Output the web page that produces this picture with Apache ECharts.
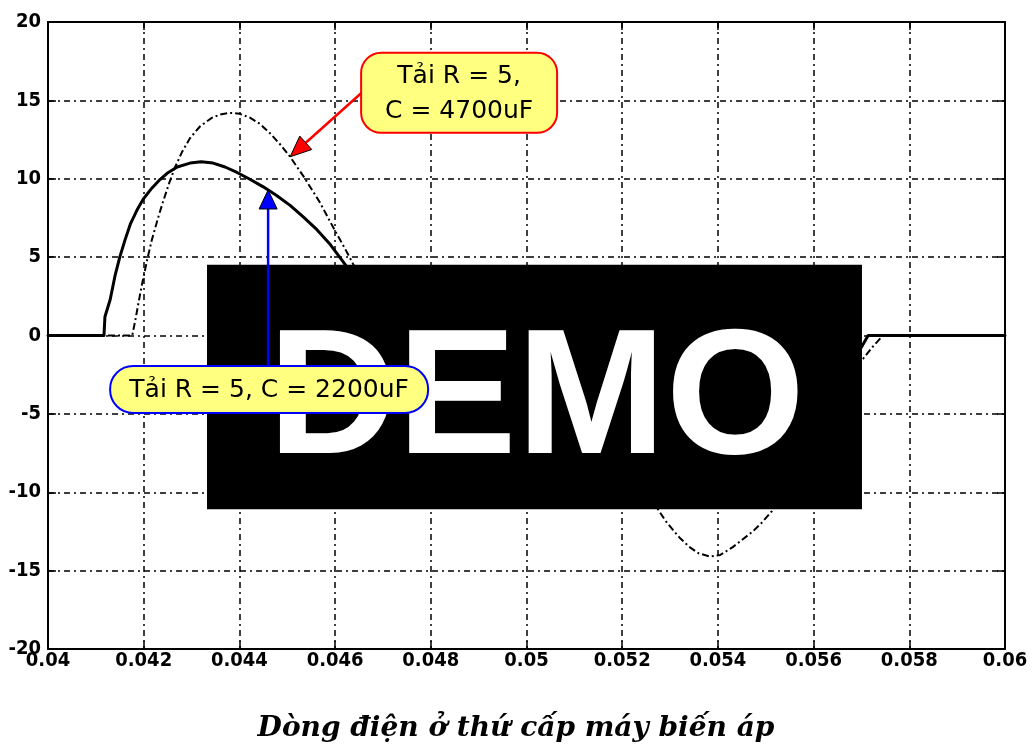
<!DOCTYPE html>
<html>
<head>
<meta charset="utf-8">
<script src="https://cdn.jsdelivr.net/npm/echarts@6/dist/echarts.min.js"></script>
<style>
  html, body { margin: 0; padding: 0; background: #fff; }
  #chart { width: 1032px; height: 747px; }
</style>
</head>
<body>
<div id="chart"></div>
<script>
// Secondary current of the transformer, load R = 5 with C = 2200uF (solid)
const tSolid = [0.04000, 0.04117, 0.04119, 0.04130, 0.04140, 0.04150, 0.04161, 0.04172, 0.04186, 0.04199,
  0.04217, 0.04234, 0.04249, 0.04270, 0.04297, 0.04320, 0.04345, 0.04370, 0.04395, 0.04420,
  0.04449, 0.04477, 0.04506, 0.04534, 0.04562, 0.04590, 0.04617, 0.04645, 0.04673, 0.04695,
  0.04714, 0.05117, 0.05119, 0.05130, 0.05140, 0.05150, 0.05161, 0.05172, 0.05186, 0.05199,
  0.05217, 0.05234, 0.05249, 0.05270, 0.05297, 0.05320, 0.05345, 0.05370, 0.05395, 0.05420,
  0.05449, 0.05477, 0.05506, 0.05534, 0.05562, 0.05590, 0.05617, 0.05645, 0.05673, 0.05695,
  0.05714, 0.06000];
const iSolid = [0, 0, 1.2, 2.3, 3.8, 5.0, 6.1, 7.1, 8.0, 8.7,
  9.4, 9.95, 10.35, 10.75, 11.0, 11.08, 11.0, 10.75, 10.4, 10.0,
  9.5, 8.95, 8.3, 7.55, 6.75, 5.8, 4.7, 3.5, 2.2, 1.0,
  0, 0, -1.2, -2.3, -3.8, -5.0, -6.1, -7.0, -7.9, -8.6,
  -9.3, -9.8, -10.2, -10.6, -10.8, -10.85, -10.8, -10.6, -10.3, -9.9,
  -9.4, -8.9, -8.3, -7.5, -6.7, -5.8, -4.7, -3.5, -2.2, -1.0,
  0, 0];

// Same load with C = 4700uF (dashed)
const tDashed = [0.04000, 0.04176, 0.04182, 0.04188, 0.04196, 0.04207, 0.04217, 0.04230, 0.04240, 0.04253,
  0.04265, 0.04280, 0.04297, 0.04318, 0.04343, 0.04360, 0.04380, 0.04400, 0.04422, 0.04443,
  0.04464, 0.04485, 0.04506, 0.04533, 0.04568, 0.04596, 0.04625, 0.04637, 0.04660, 0.04683,
  0.04703, 0.04724, 0.04745, 0.05173, 0.05182, 0.05188, 0.05196, 0.05207, 0.05217, 0.05230,
  0.05240, 0.05253, 0.05265, 0.05275, 0.05290, 0.05306, 0.05320, 0.05341, 0.05360, 0.05383,
  0.05405, 0.05431, 0.05452, 0.05473, 0.05493, 0.05513, 0.05533, 0.05568, 0.05596, 0.05625,
  0.05637, 0.05660, 0.05683, 0.05703, 0.05724, 0.05745, 0.06000];
const iDashed = [0, 0, 0.9, 1.9, 3.2, 4.8, 6.1, 7.5, 8.5, 9.7,
  10.7, 11.7, 12.6, 13.35, 13.9, 14.1, 14.2, 14.15, 13.9, 13.5,
  12.9, 12.2, 11.4, 10.2, 8.5, 6.9, 5.3, 4.6, 3.4, 2.2,
  1.4, 0.6, 0, 0, -0.9, -1.9, -3.2, -4.8, -6.1, -7.5,
  -8.5, -9.7, -10.5, -11.1, -11.8, -12.4, -12.9, -13.5, -13.9, -14.1,
  -14.0, -13.5, -13.0, -12.5, -11.9, -11.2, -10.2, -8.5, -6.9, -5.3,
  -4.6, -3.0, -2.0, -1.5, -0.7, 0, 0];

const xMin = 0.04, xMax = 0.06, xStep = 0.002;
const yMin = -20, yMax = 20, yStep = 5;

const titleText = 'Dòng điện ở thứ cấp máy biến áp';
const noteDashed = 'Tải R = 5,\nC = 4700uF';
const noteSolid = 'Tải R = 5, C = 2200uF';
const stampText = 'DEMO';

const pairs = (xs, ys) => xs.map((x, k) => [x, ys[k]]);

const tickFont = {
  color: '#000',
  fontFamily: "'DejaVu Sans Condensed', 'Liberation Sans Narrow', Arial, sans-serif",
  fontWeight: 'bold',
  fontSize: 20
};
const gridDash = { color: '#000', width: 1.5, type: [6, 4, 2, 4] };

const chart = echarts.init(document.getElementById('chart'), null, { renderer: 'canvas' });

chart.setOption({
  animation: false,
  backgroundColor: '#fff',
  title: {
    text: titleText,
    left: 'center',
    top: 710,
    textStyle: {
      fontFamily: "'DejaVu Serif', serif",
      fontStyle: 'italic',
      fontWeight: 'bold',
      fontSize: 28,
      color: '#000'
    }
  },
  grid: { left: 48, right: 27, top: 22, bottom: 98, containLabel: false },
  xAxis: [{
    type: 'value', min: xMin, max: xMax, interval: xStep,
    axisLine: { show: true, onZero: false, lineStyle: { color: '#000', width: 2 } },
    axisTick: { show: true, inside: true, length: 8, lineStyle: { color: '#000', width: 1.5 } },
    axisLabel: { ...tickFont, margin: 2, formatter: v => String(+v.toFixed(3)) },
    splitLine: { show: true, lineStyle: gridDash }
  }, {
    type: 'value', position: 'top', min: xMin, max: xMax, interval: xStep,
    axisLine: { show: true, onZero: false, lineStyle: { color: '#000', width: 2 } },
    axisTick: { show: true, inside: true, length: 8, lineStyle: { color: '#000', width: 1.5 } },
    axisLabel: { show: false }, splitLine: { show: false }
  }],
  yAxis: [{
    type: 'value', min: yMin, max: yMax, interval: yStep,
    axisLine: { show: true, onZero: false, lineStyle: { color: '#000', width: 2 } },
    axisTick: { show: true, inside: true, length: 8, lineStyle: { color: '#000', width: 1.5 } },
    axisLabel: { ...tickFont, margin: 7 },
    splitLine: { show: true, lineStyle: gridDash }
  }, {
    type: 'value', position: 'right', min: yMin, max: yMax, interval: yStep,
    axisLine: { show: true, onZero: false, lineStyle: { color: '#000', width: 2 } },
    axisTick: { show: true, inside: true, length: 8, lineStyle: { color: '#000', width: 1.5 } },
    axisLabel: { show: false }, splitLine: { show: false }
  }],
  series: [{
    name: 'C = 2200uF',
    type: 'line',
    data: pairs(tSolid, iSolid),
    showSymbol: false,
    symbol: 'none',
    lineStyle: { color: '#000', width: 3, join: 'round', cap: 'round' },
    z: 3
  }, {
    name: 'C = 4700uF',
    type: 'line',
    data: pairs(tDashed, iDashed),
    showSymbol: false,
    symbol: 'none',
    lineStyle: { color: '#000', width: 2, type: [7, 3, 2, 3] },
    z: 4
  }]
});

// value of a series at time t, by straight-line interpolation between its samples
function valueAt(xs, ys, t) {
  for (let k = 1; k < xs.length; k++) {
    if (t <= xs[k]) {
      const f = (t - xs[k - 1]) / (xs[k] - xs[k - 1]);
      return ys[k - 1] + f * (ys[k] - ys[k - 1]);
    }
  }
  return ys[ys.length - 1];
}

// arrow: shaft from 'from' to 'tip', filled head at the tip
function arrow(from, tip, color, headLen, headHalf) {
  const dx = tip[0] - from[0], dy = tip[1] - from[1];
  const len = Math.hypot(dx, dy);
  const ux = dx / len, uy = dy / len;
  const bx = tip[0] - ux * headLen, by = tip[1] - uy * headLen;
  return [{
    type: 'line', z: 110,
    shape: { x1: from[0], y1: from[1], x2: bx, y2: by },
    style: { stroke: color, lineWidth: 2.5 }
  }, {
    type: 'polygon', z: 111,
    shape: { points: [tip, [bx - uy * headHalf, by + ux * headHalf], [bx + uy * headHalf, by - ux * headHalf]] },
    style: { fill: color, stroke: '#000', lineWidth: 1 }
  }];
}

// callout anchors on the curves
const tDashTip = 0.04506;
const dashTip = chart.convertToPixel({ gridIndex: 0 }, [tDashTip, valueAt(tDashed, iDashed, tDashTip)]);
const tSolidTip = 0.0446;
const solidTip = chart.convertToPixel({ gridIndex: 0 }, [tSolidTip, valueAt(tSolid, iSolid, tSolidTip)]);

// watermark block over the plot
const stampTL = chart.convertToPixel({ gridIndex: 0 }, [0.043323, 4.52]);
const stampBR = chart.convertToPixel({ gridIndex: 0 }, [0.057011, -11.08]);

const boxA = { x: dashTip[0] + 71, y: dashTip[1] - 104, w: 196, h: 80 };
const boxB = { x: solidTip[0] - 158, y: solidTip[1] + 176, w: 318, h: 47 };

const noteFont = "'DejaVu Sans', Verdana, sans-serif";

chart.setOption({
  graphic: [
    {
      type: 'rect', z: 100,
      shape: { x: stampTL[0], y: stampTL[1], width: stampBR[0] - stampTL[0], height: stampBR[1] - stampTL[1] },
      style: { fill: '#000' }
    },
    {
      type: 'text', z: 101,
      x: (stampTL[0] + stampBR[0]) / 2 + 2, y: (stampTL[1] + stampBR[1]) / 2 + 17,
      style: {
        text: stampText, fill: '#fff', align: 'center', verticalAlign: 'middle',
        font: "bold 179px 'Liberation Sans', Arial, sans-serif"
      }
    },
    ...arrow([boxA.x + 5, boxA.y + 36], dashTip, '#ff0000', 21, 9),
    {
      type: 'rect', z: 120,
      shape: { x: boxA.x, y: boxA.y, width: boxA.w, height: boxA.h, r: 20 },
      style: { fill: '#ffff80', stroke: '#ff0000', lineWidth: 2 }
    },
    {
      type: 'text', z: 121,
      x: boxA.x + boxA.w / 2, y: boxA.y + boxA.h / 2 + 1,
      style: {
        text: noteDashed, fill: '#000', align: 'center', verticalAlign: 'middle',
        font: '25px ' + noteFont, lineHeight: 35
      }
    },
    ...arrow([solidTip[0], boxB.y + 2], solidTip, '#0000ff', 19, 9),
    {
      type: 'rect', z: 120,
      shape: { x: boxB.x, y: boxB.y, width: boxB.w, height: boxB.h, r: 23 },
      style: { fill: '#ffff80', stroke: '#0000ff', lineWidth: 2 }
    },
    {
      type: 'text', z: 121,
      x: boxB.x + boxB.w / 2, y: boxB.y + boxB.h / 2 + 1,
      style: {
        text: noteSolid, fill: '#000', align: 'center', verticalAlign: 'middle',
        font: '25px ' + noteFont
      }
    }
  ]
});
</script>
</body>
</html>
